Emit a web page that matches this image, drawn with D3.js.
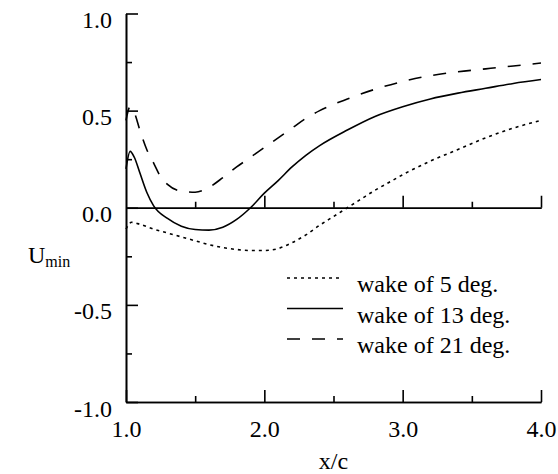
<!DOCTYPE html>
<html>
<head>
<meta charset="utf-8">
<script src="https://cdn.jsdelivr.net/npm/d3@7"></script>
<style>
  body { margin: 0; background: #fff; }
  text { font-family: "Liberation Serif", "Times New Roman", serif; fill: #000; }
</style>
</head>
<body>
<div id="graphic"></div>
<script>
// x/c positions and Umin values
var x5 = [1.0, 1.04, 1.1, 1.2, 1.3, 1.4, 1.5, 1.6, 1.7, 1.8, 1.9, 2.0, 2.1, 2.2, 2.3, 2.4, 2.5, 2.6, 2.7, 2.8, 2.9, 3.0, 3.2, 3.4, 3.6, 3.8, 4.0];
var u5 = [-0.11, -0.075, -0.085, -0.11, -0.13, -0.15, -0.17, -0.19, -0.205, -0.215, -0.22, -0.22, -0.21, -0.18, -0.14, -0.09, -0.045, 0.0, 0.045, 0.09, 0.13, 0.17, 0.24, 0.30, 0.36, 0.41, 0.45];

var x13 = [1.0, 1.03, 1.06, 1.1, 1.15, 1.2, 1.3, 1.4, 1.5, 1.6, 1.7, 1.8, 1.9, 2.0, 2.1, 2.2, 2.3, 2.4, 2.6, 2.8, 3.0, 3.2, 3.4, 3.6, 3.8, 4.0];
var u13 = [0.2, 0.29, 0.26, 0.18, 0.08, 0.01, -0.055, -0.095, -0.112, -0.115, -0.1, -0.06, 0.0, 0.075, 0.14, 0.21, 0.27, 0.32, 0.40, 0.47, 0.52, 0.56, 0.59, 0.615, 0.64, 0.66];

var x21 = [1.0, 1.03, 1.06, 1.1, 1.15, 1.2, 1.25, 1.3, 1.4, 1.5, 1.6, 1.7, 1.8, 1.9, 2.0, 2.1, 2.2, 2.3, 2.4, 2.6, 2.8, 3.0, 3.2, 3.4, 3.6, 3.8, 4.0];
var u21 = [0.45, 0.52, 0.49, 0.40, 0.30, 0.23, 0.16, 0.12, 0.085, 0.08, 0.105, 0.155, 0.21, 0.26, 0.31, 0.36, 0.41, 0.46, 0.50, 0.56, 0.61, 0.65, 0.68, 0.70, 0.715, 0.73, 0.745];

var legendLabels = ["wake of 5 deg.", "wake of 13 deg.", "wake of 21 deg."];
var xMajor = [1.0, 2.0, 3.0, 4.0];
var xMinor = [1.5, 2.5, 3.5];
var yMajor = [-1.0, -0.5, 0.0, 0.5, 1.0];
var yMinor = [-0.75, -0.25, 0.25, 0.75];

var width = 558, height = 474;
var margin = {left: 126, right: 17, top: 13.5, bottom: 72};

var svg = d3.select("#graphic").append("svg")
    .attr("width", width)
    .attr("height", height);

var x = d3.scaleLinear().domain([1, 4]).range([margin.left, width - margin.right]);
var y = d3.scaleLinear().domain([-1, 1]).range([height - margin.bottom, margin.top]);

// plain hyphen for negatives, like the original
var fmt = function (v) { return v.toFixed(1); };

// y axis: ticks point inward, labels on the left
var gy = svg.append("g")
    .attr("transform", "translate(" + x(1) + ",0)")
    .call(d3.axisLeft(y).tickValues(yMajor).tickSizeInner(-12).tickSizeOuter(0).tickPadding(14).tickFormat(fmt));
gy.append("g").call(d3.axisLeft(y).tickValues(yMinor).tickSizeInner(-6).tickSizeOuter(0).tickFormat(""));
gy.selectAll("text").attr("dy", "14px").style("font-size", "24px");

// x axis at the bottom
var gx = svg.append("g")
    .attr("transform", "translate(0," + y(-1) + ")")
    .call(d3.axisBottom(x).tickValues(xMajor).tickSizeInner(-12).tickSizeOuter(0).tickPadding(18).tickFormat(fmt));
gx.append("g").call(d3.axisBottom(x).tickValues(xMinor).tickSizeInner(-6).tickSizeOuter(0).tickFormat(""));
gx.selectAll("text").style("font-size", "24px");

// zero line with its own ticks
var g0 = svg.append("g")
    .attr("transform", "translate(0," + y(0) + ")")
    .call(d3.axisBottom(x).tickValues(xMajor.slice(1)).tickSizeInner(-12).tickSizeOuter(0).tickFormat(""));
g0.append("g").call(d3.axisBottom(x).tickValues(xMinor).tickSizeInner(-6).tickSizeOuter(0).tickFormat(""));

svg.selectAll(".domain, .tick line").attr("stroke", "#000").attr("stroke-width", 1.6);
svg.selectAll(".domain").attr("fill", "none");

// axis titles
svg.append("text")
    .attr("x", (x(1) + x(4)) / 2)
    .attr("y", 469)
    .attr("text-anchor", "middle")
    .style("font-size", "24px")
    .text("x/c");

var ut = svg.append("text")
    .attr("x", 28)
    .attr("y", 263)
    .style("font-size", "24px");
ut.append("tspan").text("U");
ut.append("tspan").attr("dy", 4).style("font-size", "16px").text("min");

// curves
var series = [
  {xs: x5, us: u5, dash: "3,4"},
  {xs: x13, us: u13, dash: null},
  {xs: x21, us: u21, dash: "13,12"}
];

var line = d3.line()
    .x(function (d) { return x(d[0]); })
    .y(function (d) { return y(d[1]); })
    .curve(d3.curveMonotoneX);

series.forEach(function (s) {
  var pts = s.xs.map(function (v, i) { return [v, s.us[i]]; });
  svg.append("path")
      .datum(pts)
      .attr("d", line)
      .attr("fill", "none")
      .attr("stroke", "#000")
      .attr("stroke-width", 1.6)
      .attr("stroke-dasharray", s.dash);
});

// legend
var leg = svg.append("g");
series.forEach(function (s, i) {
  var ly = 278 + i * 30.5;
  leg.append("line")
      .attr("x1", 287).attr("x2", 343)
      .attr("y1", ly).attr("y2", ly)
      .attr("stroke", "#000")
      .attr("stroke-width", 1.6)
      .attr("stroke-dasharray", s.dash);
  leg.append("text")
      .attr("x", 357)
      .attr("y", ly + 14)
      .style("font-size", "24px")
      .text(legendLabels[i]);
});
</script>
</body>
</html>
